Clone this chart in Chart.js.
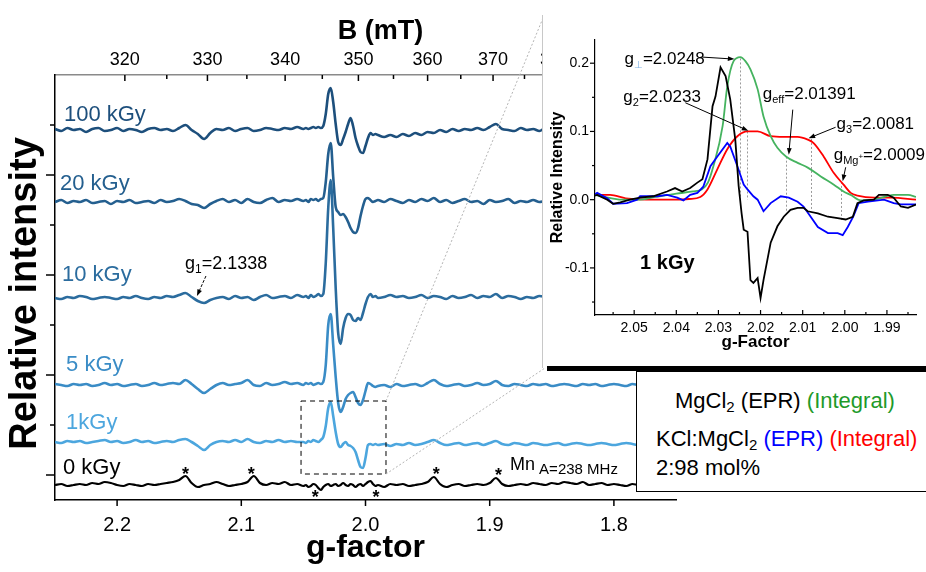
<!DOCTYPE html>
<html>
<head>
<meta charset="utf-8">
<title>EPR spectra of irradiated KCl:MgCl2</title>
<script src="https://cdn.jsdelivr.net/npm/chart.js@4.4.1/dist/chart.umd.min.js"></script>
<style>
  html, body { margin: 0; padding: 0; background: #fff; }
  body { position: relative; width: 926px; height: 572px; overflow: hidden;
         font-family: "Liberation Sans", Arial, Helvetica, sans-serif; }
  #main { position: absolute; left: 0; top: 0; }
  #insetBox { position: absolute; left: 542px; top: 15px; width: 384px; height: 353px;
              background: #fff; border-left: 1px solid #c8c8c8; }
  #inset { position: absolute; left: 0; top: 0; }
  #bar { position: absolute; left: 547px; top: 366px; width: 379px; height: 5px; background: #000; }
  #legend { position: absolute; left: 636px; top: 371px; width: 300px; height: 119px;
            border: 1.5px solid #000; background: #fff; font-size: 22px; color: #000; }
  #legend div { position: absolute; white-space: nowrap; line-height: 24px; }
  #legend sub { font-size: 15px; vertical-align: -4px; line-height: 0; }
</style>
</head>
<body>
<canvas id="main" width="700" height="572"></canvas>
<div id="insetBox"><canvas id="inset" width="384" height="353"></canvas></div>
<div id="bar"></div>
<div id="legend">
  <div style="left:38px; top:17px">MgCl<sub>2</sub> (EPR) <span style="color:#1e9a2a">(Integral)</span></div>
  <div style="left:19px; top:55px">KCl:MgCl<sub>2</sub> <span style="color:#0000ff">(EPR)</span> <span style="color:#ff0000">(Integral)</span></div>
  <div style="left:19px; top:84px">2:98 mol%</div>
</div>
<script>
var FAMILY = '"Liberation Sans", Arial, Helvetica, sans-serif';
Chart.defaults.font.family = FAMILY;
Chart.defaults.color = '#000';

// ---------- main panel: stacked spectra vs g ----------
var gGrid = [
  2.25,2.245,2.24,2.235,2.23,2.225,2.22,2.215,2.21,2.205,2.2,2.195,2.19,2.185,2.18,2.175,2.17,2.165,2.16,2.155,
  2.15,2.145,2.14,2.135,2.13,2.125,2.12,2.115,2.11,2.105,2.1,2.095,2.09,2.085,2.08,2.075,2.07,2.065,2.06,2.055,
  2.05,2.048,2.046,2.044,2.042,2.04,2.038,2.036,2.034,2.032,2.03,2.028,2.026,2.024,2.022,2.02,2.018,2.016,2.014,2.012,
  2.01,2.008,2.006,2.004,2.002,2.0,1.998,1.996,1.994,1.992,
  1.99,1.985,1.98,1.975,1.97,1.965,1.96,1.955,1.95,1.945,1.94,1.935,1.93,1.925,1.92,1.915,1.91,1.905,1.9,1.895,
  1.89,1.885,1.88,1.875,1.87,1.865,1.86,1.855,1.85,1.845,1.84,1.835,1.83,1.825,1.82,1.815,1.81,1.805,1.8,1.795,
  1.79,1.785,1.78,1.775,1.77,1.765,1.76,1.755,1.75
];

var doses = ['100 kGy', '20 kGy', '10 kGy', '5 kGy', '1kGy', '0 kGy'];
var baselines = [37.0, 29.8, 20.2, 11.5, 5.8, 1.5];

var dose100 = [
  0.1,-0.1,0.2,0.0,0.1,-0.2,0.1,0.2,-0.1,0.0, 0.2,-0.1,0.1,0.0,-0.2,0.1,0.2,0.0,0.1,-0.1,
  0.2,0.5,0.0,-0.4,-0.9,-0.3,0.1,0.0,0.2,-0.1, 0.1,0.2,-0.1,0.0,0.2,0.1,0.0,0.2,0.1,0.3,
  0.1,0.2,0.1,0.2,0.3,0.2,0.3,0.2,0.4,1.6, 3.6,4.2,2.8,0.6,-1.2,-1.5,-0.9,-0.2,0.6,1.2,
  0.4,-0.8,-1.6,-2.2,-2.3,-1.6,-0.8,-0.3,-0.5,-0.4,
  -0.5,-0.7,-0.5,-0.7,-0.4,-0.6,-0.3,-0.5,-0.2,-0.3, 0.0,-0.2,0.1,-0.1,0.1,0.0,0.2,0.0,0.3,0.6,
  0.1,0.0,-0.1,0.2,0.0,0.1,-0.1,0.2,0.0,0.1, -0.1,0.1,0.2,0.0,-0.1,0.1,0.0,0.2,-0.1,0.1,
  0.0,0.1,-0.1,0.2,0.0,0.1,-0.1,0.0,0.1
];
var dose20 = [
  0.0,0.2,-0.1,0.1,0.0,0.2,-0.1,0.0,0.1,-0.2, 0.1,0.0,0.2,-0.1,0.0,0.1,-0.1,0.2,0.0,0.1,
  0.3,0.1,-0.2,-0.3,-0.6,-0.2,0.1,0.3,0.0,0.2, -0.1,0.3,0.0,-0.1,0.2,0.4,0.0,0.2,0.1,0.3,
  0.1,0.2,0.0,0.3,0.2,0.3,0.1,0.3,0.4,2.0, 4.8,5.9,2.5,-0.5,-1.0,-1.3,-1.2,-1.5,-2.0,-2.6,
  -3.0,-3.1,-2.6,-1.4,-0.4,0.3,0.4,0.2,0.0,0.1,
  0.2,0.0,0.3,0.1,-0.1,0.2,0.0,0.3,0.1,0.4, 0.0,0.2,-0.1,0.1,0.3,0.0,0.1,-0.2,0.2,0.0,
  0.1,0.3,-0.1,0.1,0.0,0.2,0.0,0.1,-0.1,0.2, 0.0,0.1,0.2,-0.1,0.1,0.0,0.2,0.1,0.0,-0.1,
  0.1,0.2,0.0,0.1,-0.1,0.1,0.0,0.2,0.0
];
var dose10 = [
  0.0,-0.1,0.1,0.0,0.2,0.1,-0.1,0.0,0.1,0.0, -0.1,0.1,0.0,0.2,0.0,-0.1,0.1,0.0,0.2,0.1,
  0.3,0.5,0.1,-0.3,-0.5,-0.2,0.0,0.1,-0.1,0.2, 0.0,0.1,-0.2,0.1,0.3,0.0,0.1,0.2,0.0,0.3,
  0.1,0.2,0.0,0.3,0.1,0.2,0.4,0.2,0.4,3.5, 9.0,11.8,7.0,1.0,-3.5,-4.6,-3.0,-2.0,-1.6,-1.7,
  -2.2,-2.3,-2.0,-2.2,-1.5,-0.6,0.1,0.4,0.1,0.2,
  0.0,0.1,0.3,0.1,0.2,0.0,0.1,0.3,0.0,0.2, 0.1,-0.1,0.2,0.0,0.1,0.3,0.0,0.2,0.1,0.4,
  0.0,0.2,0.1,-0.1,0.1,0.0,0.2,0.1,0.0,0.2, -0.1,0.1,0.0,0.2,0.1,-0.1,0.1,0.0,0.2,0.0,
  0.1,-0.1,0.1,0.2,0.0,0.1,0.0,0.1,0.0
];
var dose5 = [
  0.1,0.0,-0.1,0.1,0.0,0.1,-0.1,0.0,0.2,0.0, 0.1,-0.1,0.0,0.1,-0.1,0.0,0.2,0.0,0.1,0.2,
  0.1,0.5,0.1,-0.4,-0.8,-0.4,0.0,0.2,0.0,0.1, 0.2,0.5,0.0,-0.1,0.2,0.0,0.1,0.3,0.1,0.2,
  0.0,0.2,0.1,0.2,0.0,0.1,0.2,0.1,0.3,2.0, 6.0,7.1,4.0,0.8,-1.8,-2.7,-2.2,-1.4,-1.0,-0.8,
  -0.7,-1.2,-1.8,-2.0,-1.5,-0.6,0.2,0.1,-0.1,-0.2,
  -0.1,0.0,-0.2,0.1,-0.1,0.0,0.1,-0.1,0.2,0.5, 0.1,-0.1,0.0,0.1,-0.1,0.0,0.2,0.0,0.1,0.4,
  0.0,-0.1,0.1,0.0,-0.1,0.1,0.0,0.1,-0.1,0.0, 0.1,0.0,-0.1,0.1,0.0,0.1,-0.1,0.0,0.1,0.0,
  -0.1,0.1,0.0,0.1,0.0,-0.1,0.1,0.0,0.1
];
var dose1 = [
  0.0,-0.1,0.1,0.0,0.1,-0.1,0.0,0.1,0.2,0.0, 0.1,-0.1,0.0,0.2,0.0,0.1,-0.1,0.0,0.1,0.0,
  0.2,0.3,0.0,-0.4,-0.8,-0.3,0.0,0.1,0.0,0.2, 0.0,0.3,0.0,-0.1,0.1,0.0,0.2,0.0,0.1,0.0,
  0.0,-0.1,0.1,0.0,0.2,0.1,0.0,0.2,0.5,1.6, 3.4,4.0,2.6,1.0,-0.2,-0.5,-0.2,0.0,-0.3,-0.4,
  -0.6,-1.0,-1.8,-2.5,-2.6,-1.6,-0.3,-0.2,-0.3,-0.2,
  -0.3,-0.2,-0.4,-0.2,-0.3,-0.1,-0.3,-0.2,0.0,0.2, -0.1,-0.3,-0.2,-0.1,-0.3,-0.2,-0.1,-0.3,-0.1,0.1,
  -0.2,-0.3,-0.1,-0.2,-0.3,-0.1,-0.2,-0.3,-0.2,-0.1, -0.3,-0.2,-0.1,-0.2,-0.3,-0.2,-0.1,-0.2,-0.3,-0.2,
  -0.1,-0.2,-0.3,-0.1,-0.2,-0.2,-0.3,-0.1,-0.2
];
var dose0 = [
  0.0,0.1,-0.1,0.0,0.1,0.0,0.2,0.1,0.3,0.2, 0.0,-0.1,0.1,0.0,-0.1,0.1,0.0,0.1,0.2,0.3,
  0.5,0.9,0.2,-0.2,0.0,0.1,0.3,0.1,-0.1,0.0, 0.1,0.3,0.9,0.2,0.0,0.2,0.1,0.3,0.0,0.1,
  -0.1,0.0,-0.2,-0.1,0.1,0.0,-0.3,-0.5,-0.2,0.0, 0.1,-0.1,0.0,0.1,-0.1,0.0,0.2,0.0,-0.1,0.1,
  0.0,-0.2,0.0,0.1,-0.1,0.1,0.3,0.4,0.1,-0.1,
  0.0,-0.2,0.1,0.0,0.1,-0.1,0.0,0.1,0.3,0.8, 0.1,-0.2,0.0,0.1,-0.1,0.0,0.1,0.0,0.2,0.7,
  0.1,-0.1,0.0,0.1,0.0,0.2,0.1,0.0,0.2,0.1, 0.3,0.2,0.1,0.3,0.0,0.1,0.2,0.0,0.1,0.0,
  -0.1,0.1,0.0,0.1,-0.1,0.0,0.1,0.0,0.1
];
var spectra = [dose100, dose20, dose10, dose5, dose1, dose0];

var gTicks = [2.2, 2.1, 2.0, 1.9, 1.8];
var bTicks = [320, 330, 340, 350, 360, 370, 380, 390, 400];
var bMinor = [325, 335, 345, 355, 365, 375, 385, 395];
var MW = 702;            // B*g at the spectrometer frequency, mT
var yMajor = [2.5, 12.5, 22.5, 32.5];
var yMinor = [7.5, 17.5, 27.5, 37.5];

// Mn2+ lines of the reference sample, marked with stars
var mnStars = [[2.145, 2.8], [2.092, 2.8], [2.0405, 0.5], [1.9915, 0.5], [1.943, 2.8], [1.893, 2.7]];
var g1Value = '2.1338';

// ---------- inset: 1 kGy, EPR and integrals ----------
var mgEprG = [2.0593,2.0588,2.0564,2.055,2.0533,2.051,2.0486,2.0455,2.0422,2.0403,2.0386,2.0367,2.035,2.0338,
  2.0326,2.0314,2.0307,2.0295,2.0283,2.0272,2.026,2.0252,2.0245,2.024,2.0231,2.0224,2.0217,2.0207,2.02,2.0193,
  2.0176,2.016,2.0145,2.0129,2.0112,2.0098,2.0088,2.0064,2.004,2.0017,1.9998,1.9981,1.997,1.9955,1.9931,1.9919,
  1.9898,1.9884,1.9867,1.985,1.9831];
var mgEpr = [0.006,0.007,0.0,-0.006,-0.004,0.0,0.003,0.005,0.012,0.017,0.012,0.017,0.025,0.03,
  0.059,0.137,0.151,0.194,0.181,0.147,0.088,0.02,-0.02,-0.044,-0.047,-0.118,-0.122,-0.115,-0.144,-0.118,
  -0.063,-0.039,-0.025,-0.015,-0.012,-0.012,-0.017,-0.02,-0.025,-0.027,-0.029,-0.025,-0.005,-0.001,0.0,0.007,
  0.007,0.003,-0.01,-0.012,-0.007];

var mgIntG = [2.0593,2.057,2.053,2.049,2.045,2.04,2.036,2.034,2.0325,2.0312,2.029,2.0279,2.0264,2.0248,2.0236,
  2.0224,2.0207,2.0193,2.0176,2.016,2.0139,2.0112,2.0088,2.0057,2.0026,2.0003,1.9986,1.9962,1.993,1.9884,1.985,1.9831];
var mgInt = [0.007,0.004,0.0,0.0,0.004,0.009,0.012,0.015,0.025,0.049,0.108,0.166,0.203,0.209,0.203,
  0.191,0.162,0.122,0.093,0.076,0.063,0.054,0.047,0.034,0.022,0.012,0.007,-0.001,0.0,0.007,0.007,0.004];

var kclEprG = [2.0593,2.0588,2.0564,2.055,2.0517,2.0493,2.0486,2.047,2.0445,2.0422,2.0398,2.0383,2.0367,2.035,
  2.0336,2.0319,2.0303,2.0279,2.0272,2.0255,2.024,2.0231,2.0217,2.0207,2.0193,2.0176,2.0152,2.0133,2.0112,2.0098,
  2.0081,2.0064,2.004,2.0017,2.0005,1.9993,1.998,1.9967,1.9945,1.9907,1.9884,1.9867,1.9831];
var kclEpr = [0.008,0.01,0.002,-0.006,-0.005,0.0,0.005,0.005,0.005,0.007,0.003,-0.001,0.007,0.01,
  0.019,0.049,0.063,0.083,0.078,0.049,0.022,0.015,0.005,0.0,-0.017,-0.005,0.005,0.003,-0.003,-0.01,
  -0.025,-0.04,-0.049,-0.049,-0.052,-0.04,-0.025,-0.005,-0.003,0.0,-0.005,-0.007,-0.007];

var kclIntG = [2.0593,2.0557,2.052,2.045,2.04,2.037,2.0343,2.0326,2.0303,2.0279,2.0255,2.0231,2.0207,2.0176,
  2.0145,2.0112,2.0088,2.0074,2.005,2.0026,2.0003,1.9986,1.997,1.993,1.989,1.9831];
var kclInt = [0.007,0.007,0.002,0.0,0.0,0.001,0.004,0.015,0.044,0.074,0.093,0.1,0.1,0.093,
  0.092,0.092,0.088,0.083,0.063,0.039,0.022,0.01,0.006,0.003,0.003,0.0];

var insetGTicks = [2.05, 2.04, 2.03, 2.02, 2.01, 2.0, 1.99];
var insetGMinor = [2.055, 2.045, 2.035, 2.025, 2.015, 2.005, 1.995, 1.985];
var insetYTicks = [-0.1, 0.0, 0.1, 0.2];
var insetYMinor = [-0.15, -0.05, 0.05, 0.15];

// g values picked out on the integrals: [name, g, value on curve, lower end of guide]
var gMarks = [
  ['perp', 2.0248, 0.207, -0.016],
  ['2', 2.0233, 0.100, 0.0],
  ['eff', 2.01391, 0.063, -0.017],
  ['3', 2.0081, 0.089, -0.015],
  ['Mg', 2.0009, 0.026, -0.031]
];
var gMarkText = { perp: '2.0248', '2': '2.0233', eff: '2.01391', '3': '2.0081', Mg: '2.0009' };

// ---------- drawing helpers ----------
function pts(xs, ys, shift) {
  return xs.map(function (x, i) { return { x: x, y: (shift || 0) + ys[i] }; });
}

function richText(ctx, x, y, parts) {
  var cx = x;
  parts.forEach(function (p) {
    ctx.font = (p.w || 'normal') + ' ' + p.s + 'px ' + FAMILY;
    ctx.fillStyle = p.c || '#000';
    ctx.textBaseline = 'alphabetic';
    ctx.textAlign = 'left';
    ctx.fillText(p.t, cx, y + (p.dy || 0));
    cx += ctx.measureText(p.t).width;
  });
}

function arrow(ctx, x1, y1, x2, y2, head) {
  var a = Math.atan2(y2 - y1, x2 - x1);
  ctx.beginPath();
  ctx.moveTo(x1, y1);
  ctx.lineTo(x2 - Math.cos(a) * head * 0.8, y2 - Math.sin(a) * head * 0.8);
  ctx.stroke();
  ctx.beginPath();
  ctx.moveTo(x2, y2);
  ctx.lineTo(x2 - head * Math.cos(a - 0.35), y2 - head * Math.sin(a - 0.35));
  ctx.lineTo(x2 - head * Math.cos(a + 0.35), y2 - head * Math.sin(a + 0.35));
  ctx.closePath();
  ctx.fill();
}

// tick marks (major and minor) placed through the chart scales
var tickMarks = {
  id: 'tickMarks',
  afterDraw: function (chart, args, opts) {
    var ctx = chart.ctx, area = chart.chartArea;
    ctx.save();
    ctx.strokeStyle = '#000';
    ctx.lineWidth = opts.width || 1.5;
    (opts.sets || []).forEach(function (set) {
      var scale = chart.scales[set.axis];
      set.values.forEach(function (v) {
        var p = scale.getPixelForValue(v);
        ctx.beginPath();
        if (scale.isHorizontal()) {
          var y0 = scale.position === 'top' ? area.top : area.bottom;
          ctx.moveTo(p, y0);
          ctx.lineTo(p, y0 + set.len);
        } else {
          ctx.moveTo(area.left, p);
          ctx.lineTo(area.left + set.len, p);
        }
        ctx.stroke();
      });
    });
    ctx.restore();
  }
};

var doseColors = ['#1d4f7c', '#245f8f', '#2b6c9e', '#3a8cc6', '#4ca6de', '#000000'];
var doseLabelAt = [[2.2428, 37.9], [2.2460, 31.0], [2.2444, 21.9], [2.2411, 12.9], [2.2411, 7.1], [2.2436, 2.6]];

var mainNotes = {
  id: 'mainNotes',
  afterDatasetsDraw: function (chart) {
    var ctx = chart.ctx, x = chart.scales.x, y = chart.scales.y, area = chart.chartArea;
    ctx.save();

    doses.forEach(function (d, i) {
      richText(ctx, x.getPixelForValue(doseLabelAt[i][0]), y.getPixelForValue(doseLabelAt[i][1]),
        [{ t: d, s: 22, c: doseColors[i] }]);
    });

    // g1 on the 10 kGy trace
    var tx = x.getPixelForValue(2.1357), ty = y.getPixelForValue(20.4);
    richText(ctx, x.getPixelForValue(2.1453), y.getPixelForValue(23.15),
      [{ t: 'g', s: 18 }, { t: '1', s: 12, dy: 4 }, { t: '=' + g1Value, s: 18 }]);
    ctx.strokeStyle = '#000'; ctx.fillStyle = '#000'; ctx.lineWidth = 1;
    ctx.setLineDash([3, 1.5]);
    arrow(ctx, tx + 9, ty - 20, tx, ty, 7);
    ctx.setLineDash([]);

    // stars on the 0 kGy trace
    ctx.font = 'bold 18px ' + FAMILY;
    ctx.textAlign = 'center';
    ctx.textBaseline = 'top';
    ctx.fillStyle = '#000';
    mnStars.forEach(function (s) {
      ctx.fillText('*', x.getPixelForValue(s[0]), y.getPixelForValue(s[1]) - 6);
    });
    richText(ctx, x.getPixelForValue(1.8837), y.getPixelForValue(3.05),
      [{ t: 'Mn', s: 18 }, { t: ' A=238 MHz', s: 15, dy: 4 }]);

    // dashed frame around the zoomed window and the guide lines to the inset
    var bx1 = x.getPixelForValue(2.0519), bx2 = x.getPixelForValue(1.9835);
    var by1 = y.getPixelForValue(9.9), by2 = y.getPixelForValue(2.6);
    ctx.strokeStyle = '#000';
    ctx.lineWidth = 1;
    ctx.setLineDash([5, 4]);
    ctx.strokeRect(bx1, by1, bx2 - bx1, by2 - by1);
    var box = document.getElementById('insetBox');
    var ex = box.offsetLeft + 1, eTop = box.offsetTop + 3, eBot = box.offsetTop + box.offsetHeight;
    ctx.strokeStyle = '#b4b4b4';
    ctx.setLineDash([2, 2]);
    ctx.beginPath();
    ctx.moveTo(bx2, by1); ctx.lineTo(ex, eTop);
    ctx.moveTo(bx2, by2); ctx.lineTo(ex + 2, eBot);
    ctx.stroke();
    ctx.setLineDash([]);

    // axis titles (top one sits a little right of centre)
    ctx.fillStyle = '#000';
    ctx.textAlign = 'center';
    ctx.textBaseline = 'middle';
    ctx.font = 'bold 27px ' + FAMILY;
    ctx.fillText('B (mT)', (area.left + area.right) / 2 + 15, 32);
    ctx.translate(26, (area.top + area.bottom) / 2 + 6);
    ctx.rotate(-Math.PI / 2);
    ctx.font = 'bold 38px ' + FAMILY;
    ctx.fillText('Relative intensity', 0, 0);
    ctx.restore();
  }
};

var mainChart = new Chart(document.getElementById('main'), {
  type: 'line',
  data: {
    datasets: doses.map(function (d, i) {
      return {
        label: d,
        data: pts(gGrid, spectra[i], baselines[i]),
        borderColor: doseColors[i],
        borderWidth: i === 5 ? 2.2 : 2.6,
        pointRadius: 0,
        cubicInterpolationMode: 'monotone',
        fill: false
      };
    })
  },
  options: {
    responsive: false,
    animation: false,
    layout: { padding: { left: 0, right: 24, top: 0, bottom: 0 } },
    plugins: {
      legend: { display: false },
      tooltip: { enabled: false },
      tickMarks: {
        sets: [
          { axis: 'y', values: yMajor, len: -9 },
          { axis: 'y', values: yMinor, len: -5 },
          { axis: 'x', values: gTicks, len: 6 },
          { axis: 'xB', values: bTicks.map(function (b) { return MW / b; }), len: 6 },
          { axis: 'xB', values: bMinor.map(function (b) { return MW / b; }), len: 4 }
        ]
      }
    },
    scales: {
      x: {
        type: 'linear', position: 'bottom', min: 1.75, max: 2.25, reverse: true,
        afterBuildTicks: function (s) { s.ticks = gTicks.map(function (v) { return { value: v }; }); },
        afterFit: function (s) { s.height = 72; },
        grid: { display: false, drawTicks: false },
        border: { display: true, color: '#000', width: 1.5 },
        ticks: { autoSkip: false, maxRotation: 0, padding: 13, font: { size: 20 },
                 callback: function (v) { return v.toFixed(1); } },
        title: { display: true, text: 'g-factor', font: { size: 32, weight: 'bold' }, padding: { top: 0, bottom: 5 } }
      },
      xB: {
        type: 'linear', position: 'top', min: 1.75, max: 2.25, reverse: true,
        afterBuildTicks: function (s) { s.ticks = bTicks.map(function (b) { return { value: MW / b }; }); },
        afterFit: function (s) { s.height = 75; },
        grid: { display: false, drawTicks: false },
        border: { display: true, color: '#8a8a8a', width: 1.5 },
        ticks: { autoSkip: false, maxRotation: 0, padding: 4, font: { size: 18 },
                 callback: function (v) { return String(Math.round(MW / v)); } },
        title: { display: false }
      },
      y: {
        type: 'linear', min: 0, max: 42.5,
        afterFit: function (s) { s.width = 55; },
        grid: { display: false, drawTicks: false },
        border: { display: true, color: '#000', width: 1.5 },
        ticks: { display: false },
        title: { display: false }
      }
    }
  },
  plugins: [tickMarks, mainNotes]
});

// ---------- inset chart ----------
var insetNotes = {
  id: 'insetNotes',
  beforeDatasetsDraw: function (chart) {
    var ctx = chart.ctx, x = chart.scales.x, y = chart.scales.y;
    ctx.save();
    ctx.strokeStyle = '#9a9a9a';
    ctx.lineWidth = 1;
    ctx.setLineDash([2, 2]);
    gMarks.forEach(function (m) {
      var px = Math.round(x.getPixelForValue(m[1])) + 0.5;
      ctx.beginPath();
      ctx.moveTo(px, y.getPixelForValue(m[2]));
      ctx.lineTo(px, y.getPixelForValue(m[3]));
      ctx.stroke();
    });
    ctx.restore();
  },
  afterDraw: function (chart) {
    var ctx = chart.ctx, x = chart.scales.x, y = chart.scales.y;
    ctx.save();
    ctx.strokeStyle = '#000';
    ctx.fillStyle = '#000';
    ctx.lineWidth = 1;
    // [name, tip g, tip value, text dx, text dy, tail dx, tail dy]
    var notes = [
      ['perp', 2.0262, 0.206, -110, 5, -32, -2],
      ['2', 2.0229, 0.101, -125, -29, -63, -28],
      ['eff', 2.0133, 0.066, -26, -56, 4, -45],
      ['3', 2.0086, 0.090, 28, -9, 27, -11],
      ['Mg', 2.0005, 0.027, -9, -21, 3, -14]
    ];
    notes.forEach(function (n) {
      var tx = x.getPixelForValue(n[1]), ty = y.getPixelForValue(n[2]);
      var sub;
      if (n[0] === 'perp') sub = [{ t: '\u22A5', s: 10, dy: 4, c: '#7fb2e5' }];
      else if (n[0] === 'Mg') sub = [{ t: 'Mg', s: 11, dy: 4 }, { t: '+', s: 8, dy: -1 }];
      else sub = [{ t: n[0], s: 11, dy: 4 }];
      richText(ctx, tx + n[3], ty + n[4],
        [{ t: 'g', s: 17 }].concat(sub, [{ t: '=' + gMarkText[n[0]], s: 17 }]));
      ctx.fillStyle = '#000';
      arrow(ctx, tx + n[5], ty + n[6], tx, ty, 7);
    });
    richText(ctx, x.getPixelForValue(2.0486), y.getPixelForValue(-0.101),
      [{ t: '1 kGy', s: 20, w: 'bold' }]);
    ctx.restore();
  }
};

var insetChart = new Chart(document.getElementById('inset'), {
  type: 'line',
  data: {
    datasets: [
      { label: 'MgCl2 EPR', data: pts(mgEprG, mgEpr), borderColor: '#000000', borderWidth: 1.8, pointRadius: 0, tension: 0 },
      { label: 'KCl:MgCl2 EPR', data: pts(kclEprG, kclEpr), borderColor: '#0000ff', borderWidth: 1.8, pointRadius: 0, tension: 0 },
      { label: 'MgCl2 integral', data: pts(mgIntG, mgInt), borderColor: '#45b35f', borderWidth: 1.8, pointRadius: 0,
        cubicInterpolationMode: 'monotone' },
      { label: 'KCl:MgCl2 integral', data: pts(kclIntG, kclInt), borderColor: '#ff0000', borderWidth: 1.8, pointRadius: 0,
        cubicInterpolationMode: 'monotone' }
    ]
  },
  options: {
    responsive: false,
    animation: false,
    layout: { padding: { left: 0, right: 11, top: 25, bottom: 0 } },
    plugins: {
      legend: { display: false },
      tooltip: { enabled: false },
      tickMarks: {
        width: 1.2,
        sets: [
          { axis: 'y', values: insetYTicks, len: -5 },
          { axis: 'y', values: insetYMinor, len: -3 },
          { axis: 'x', values: insetGTicks, len: -5 },
          { axis: 'x', values: insetGMinor, len: -3 }
        ]
      }
    },
    scales: {
      x: {
        type: 'linear', min: 1.9831, max: 2.0593, reverse: true,
        afterBuildTicks: function (s) { s.ticks = insetGTicks.map(function (v) { return { value: v }; }); },
        afterFit: function (s) { s.height = 53; },
        grid: { display: false, drawTicks: false },
        border: { display: true, color: '#000', width: 1.2 },
        ticks: { autoSkip: false, maxRotation: 0, padding: 5, font: { size: 14 },
                 callback: function (v) { return v.toFixed(2); } },
        title: { display: true, text: 'g-Factor', font: { size: 17, weight: 'bold' }, padding: { top: 0, bottom: 15 } }
      },
      y: {
        type: 'linear', min: -0.169, max: 0.234,
        afterBuildTicks: function (s) { s.ticks = insetYTicks.map(function (v) { return { value: v }; }); },
        afterFit: function (s) { s.width = 52; },
        grid: { display: false, drawTicks: false },
        border: { display: true, color: '#000', width: 1.2 },
        ticks: { autoSkip: false, padding: 6, font: { size: 14 },
                 callback: function (v) { return v.toFixed(1); } },
        title: { display: true, text: 'Relative Intensity', font: { size: 16, weight: 'bold' }, padding: { top: 5, bottom: 0 } }
      }
    }
  },
  plugins: [tickMarks, insetNotes]
});
</script>
</body>
</html>
